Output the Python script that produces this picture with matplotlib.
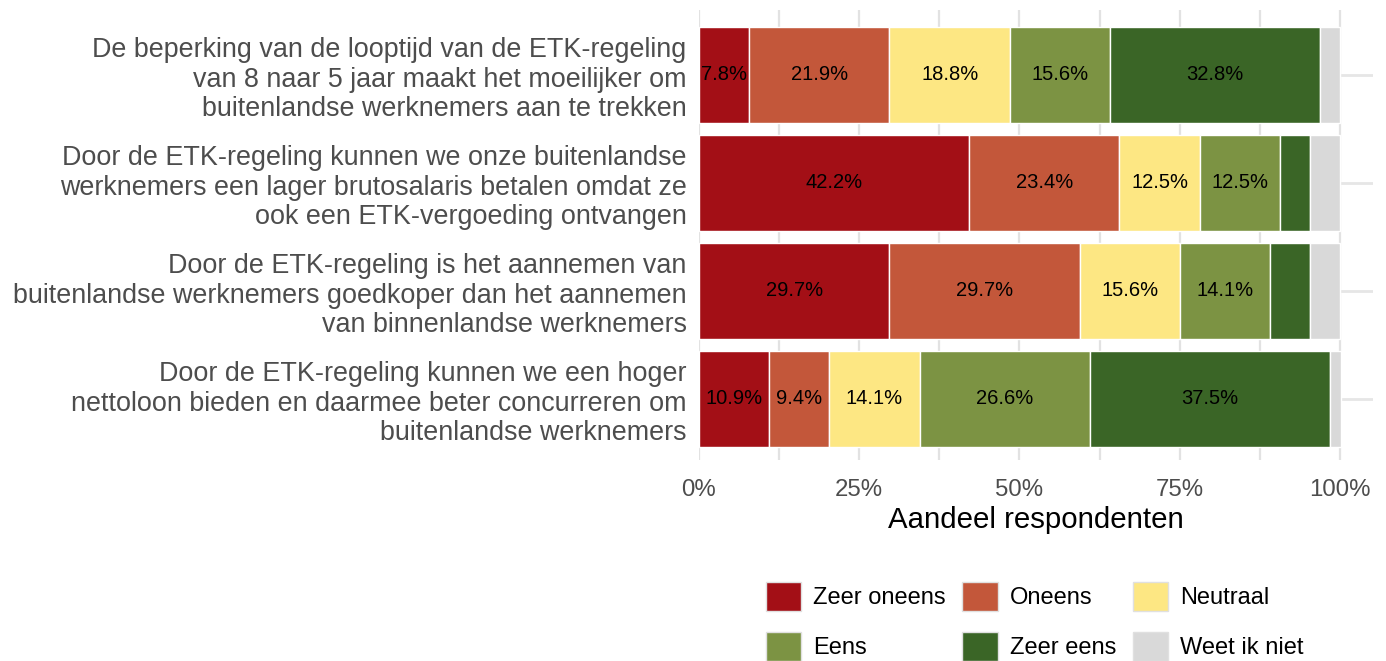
import matplotlib
matplotlib.use("Agg")
import matplotlib.pyplot as plt
from matplotlib.patches import Patch
import numpy as np

plt.rcParams["font.family"] = ["Liberation Sans", "DejaVu Sans"]

# Survey statements (top to bottom) and answer shares in percent
statements = [
    "De beperking van de looptijd van de ETK-regeling\nvan 8 naar 5 jaar maakt het moeilijker om\nbuitenlandse werknemers aan te trekken",
    "Door de ETK-regeling kunnen we onze buitenlandse\nwerknemers een lager brutosalaris betalen omdat ze\nook een ETK-vergoeding ontvangen",
    "Door de ETK-regeling is het aannemen van\nbuitenlandse werknemers goedkoper dan het aannemen\nvan binnenlandse werknemers",
    "Door de ETK-regeling kunnen we een hoger\nnettoloon bieden en daarmee beter concurreren om\nbuitenlandse werknemers",
]
answers = ["Zeer oneens", "Oneens", "Neutraal", "Eens", "Zeer eens", "Weet ik niet"]
zeer_oneens = [7.8, 42.2, 29.7, 10.9]
oneens = [21.9, 23.4, 29.7, 9.4]
neutraal = [18.8, 12.5, 15.6, 14.1]
eens = [15.6, 12.5, 14.1, 26.6]
zeer_eens = [32.8, 4.7, 6.2, 37.5]
weet_niet = [3.1, 4.7, 4.7, 1.6]
x_ticks = [0, 25, 50, 75, 100]
x_tick_labels = ["0%", "25%", "50%", "75%", "100%"]

colors = ["#A30F16", "#C3573A", "#FDE783", "#7C9343", "#3A6526", "#D9D9D9"]
series = [zeer_oneens, oneens, neutraal, eens, zeer_eens, weet_niet]

fig = plt.figure(figsize=(13.86, 6.61), dpi=100)
ax = fig.add_axes([699 / 1386, 1 - 460 / 661, (1373 - 699) / 1386, 450 / 661])

y = np.arange(len(statements))

# grid first so the bars sit on top
for v in np.arange(0, 101, 12.5):
    ax.axvline(v, color="#E2E2E2", lw=1.6, zorder=0)
for yy in y:
    ax.axhline(yy, color="#E6E6E6", lw=2.0, zorder=0)

left = np.zeros(len(statements))
for vals, col in zip(series, colors):
    vals = np.array(vals)
    ax.barh(y, vals, left=left, height=0.89, color=col,
            edgecolor="white", linewidth=1.0, zorder=2)
    for yi, (l, v) in enumerate(zip(left, vals)):
        if v > 7:
            ax.text(l + v / 2, yi, f"{v:.1f}%", ha="center", va="center",
                    fontsize=14.5, color="black", zorder=3)
    left += vals

ax.set_xlim(0, 105.15)
ax.set_ylim(len(statements) - 1 + 0.565, -0.6)
ax.set_yticks(y)
ax.set_yticklabels(statements, fontsize=19.4, color="#4D4D4D", linespacing=1.17)
ax.set_xticks(x_ticks)
ax.set_xticklabels(x_tick_labels, fontsize=17.3, color="#4D4D4D")
ax.tick_params(axis="x", length=0, pad=14)
ax.tick_params(axis="y", length=0, pad=9)
ax.set_xlabel("Aandeel respondenten", fontsize=21.2, color="black", labelpad=3)
for s in ax.spines.values():
    s.set_visible(False)

# legend filled row by row: reorder for matplotlib's column-major layout
order = [0, 3, 1, 4, 2, 5]
handles = [Patch(facecolor=colors[i], edgecolor="#E0E0E0", linewidth=1.0) for i in order]
labels = [answers[i] for i in order]
fig.legend(handles, labels, ncol=3, loc="upper left",
           bbox_to_anchor=(766 / 1386, 1 - 582 / 661), frameon=False,
           fontsize=17, handlelength=1.5, handleheight=1.5,
           handletextpad=0.5, columnspacing=0.7, labelspacing=0.9,
           borderpad=0, borderaxespad=0)

fig.savefig("out.png", dpi=100)
